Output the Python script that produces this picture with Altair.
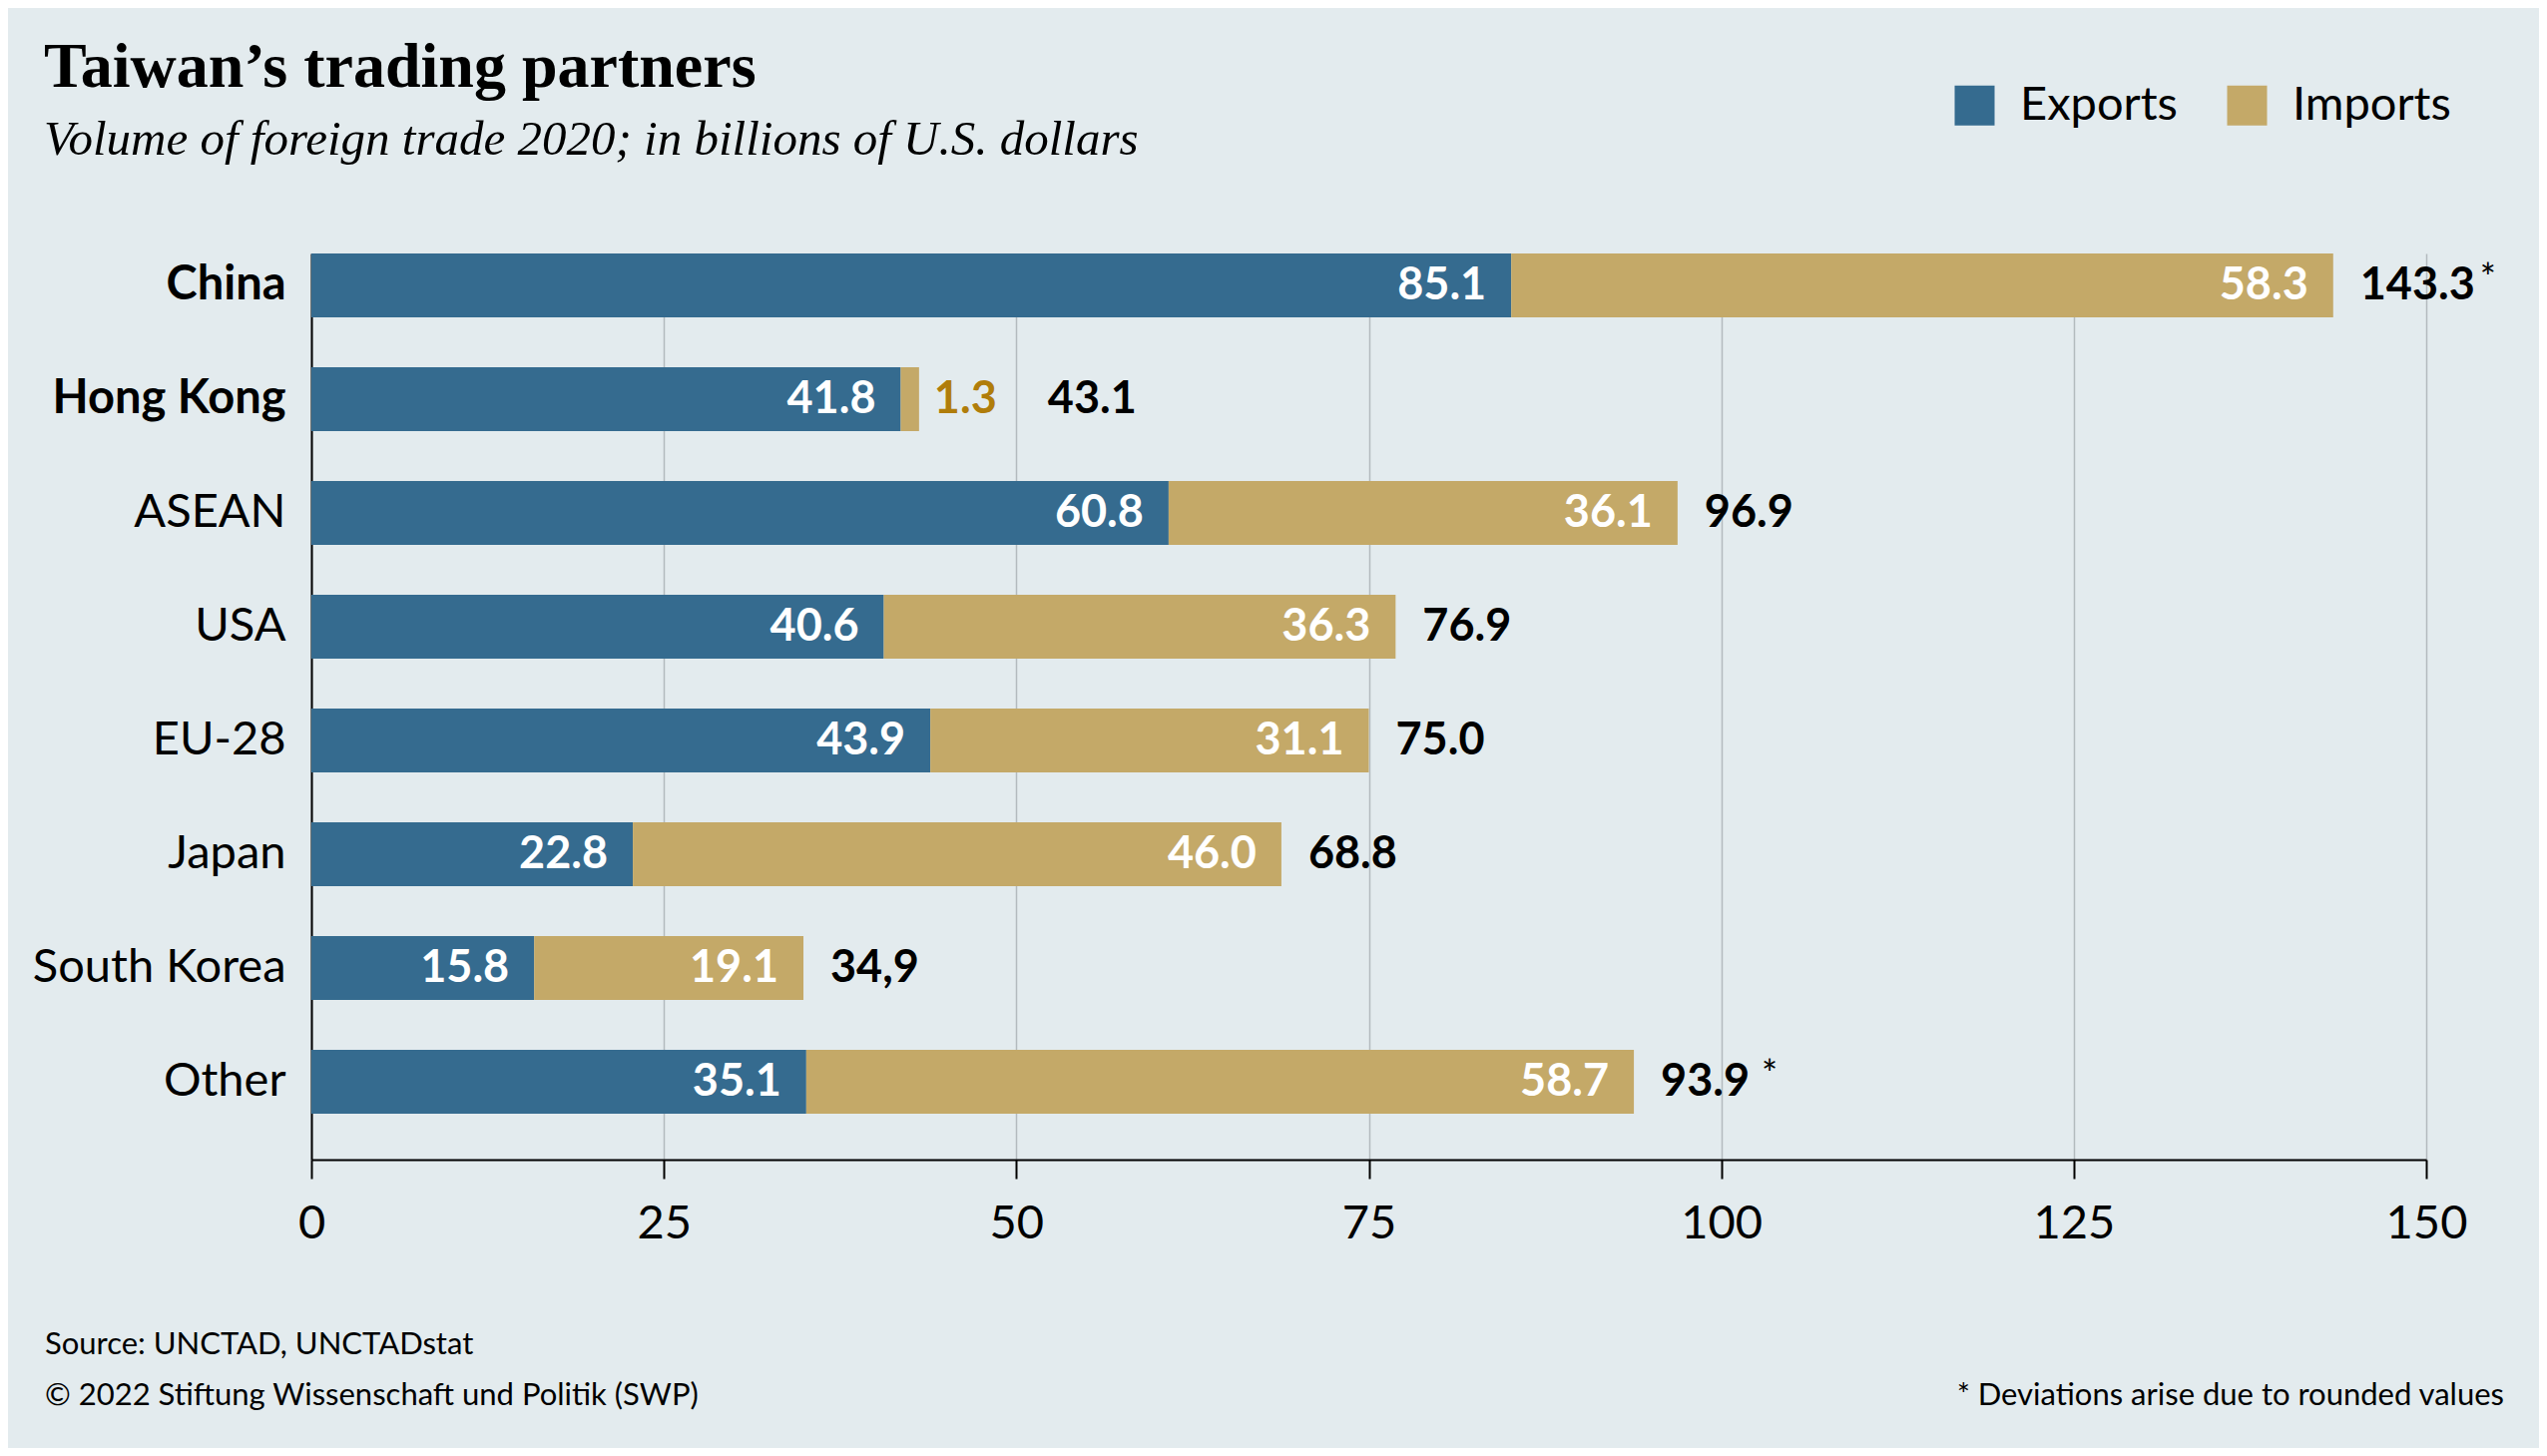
import altair as alt
import pandas as pd

# ---------------- data ----------------
partners = ["China", "Hong Kong", "ASEAN", "USA", "EU-28", "Japan", "South Korea", "Other"]
exports = [85.1, 41.8, 60.8, 40.6, 43.9, 22.8, 15.8, 35.1]
imports = [58.3, 1.3, 36.1, 36.3, 31.1, 46.0, 19.1, 58.7]
totals = ["143.3", "43.1", "96.9", "76.9", "75.0", "68.8", "34,9", "93.9"]
notes = ["*", "", "", "", "", "", "", "*"]
bold_partners = ["China", "Hong Kong"]
flows = ["Exports", "Imports"]
flow_colors = ["#356b8f", "#c4a968"]
x_ticks = [0, 25, 50, 75, 100, 125, 150]

title_text = "Taiwan\u2019s trading partners"
subtitle_text = "Volume of foreign trade 2020; in billions of U.S. dollars"
source_text = "Source: UNCTAD, UNCTADstat"
copyright_text = "\u00a9 2022 Stiftung Wissenschaft und Politik (SWP)"
footnote_text = "* Deviations arise due to rounded values"

# ---------------- tables ----------------
long_rows = []
for p, e, i in zip(partners, exports, imports):
    long_rows.append({"partner": p, "flow": flows[0], "value": e, "order": 0})
    long_rows.append({"partner": p, "flow": flows[1], "value": i, "order": 1})
long_df = pd.DataFrame(long_rows)

wide_df = pd.DataFrame({
    "partner": partners,
    "exports": exports,
    "imports": imports,
    "total": totals,
    "note": notes,
})

SANS = "Lato"
SERIF = "Liberation Serif"
BG = "#e3ebee"

bold_test = " || ".join([f"datum.value == '{p}'" for p in bold_partners])

x_scale = alt.Scale(domain=[0, 150], nice=False, zero=True)
x_axis = alt.Axis(
    values=x_ticks, title=None, grid=True, gridColor="#b3babe", gridWidth=1.5,
    domainColor="black", domainWidth=2, tickColor="black", tickWidth=2, tickSize=19,
    labelFont=SANS, labelFontSize=47, labelColor="black", labelPadding=22,
    labelFlush=False, labelOverlap=False,
)
y_scale = alt.Scale(domain=partners, paddingInner=0.439, paddingOuter=0.202, align=0)
y_axis = alt.Axis(
    title=None, ticks=False, grid=False, domainColor="black", domainWidth=2,
    labelFont=SANS, labelFontSize=47, labelColor="black", labelPadding=26, labelLimit=600,
    labelFontWeight={"condition": {"test": bold_test, "value": "bold"}, "value": "normal"},
)
y_enc = alt.Y("partner:N", sort=partners, scale=y_scale, axis=y_axis, title=None)

bars = alt.Chart(long_df).mark_bar().encode(
    x=alt.X("value:Q", stack="zero", scale=x_scale, axis=x_axis, title=None),
    y=y_enc,
    color=alt.Color(
        "flow:N",
        scale=alt.Scale(domain=flows, range=flow_colors),
        legend=alt.Legend(
            title=None, orient="none", legendX=1643, legendY=-172, direction="horizontal",
            symbolType="square", symbolSize=1600, symbolStrokeWidth=0, symbolOpacity=1,
            labelFont=SANS, labelFontSize=47, labelColor="black", labelOffset=22,
            labelLimit=500, columnPadding=46, padding=0,
        ),
    ),
    order=alt.Order("order:Q"),
)

seg = alt.Chart(long_df).transform_stack(
    stack="value", groupby=["partner"], as_=["x0", "x1"], sort=[alt.SortField("order")]
)

inside_labels = seg.transform_filter("datum.value >= 5").mark_text(
    align="right", baseline="middle", dx=-25, font=SANS, fontWeight="bold",
    fontSize=45, color="white",
).encode(
    x=alt.X("x1:Q", scale=x_scale, axis=x_axis, title=None),
    y=y_enc,
    text=alt.Text("value:Q", format=".1f"),
)

outside_labels = seg.transform_filter("datum.value < 5").mark_text(
    align="left", baseline="middle", dx=15, font=SANS, fontWeight="bold",
    fontSize=45, color="#b07d0a",
).encode(
    x=alt.X("x1:Q", scale=x_scale, axis=x_axis, title=None),
    y=y_enc,
    text=alt.Text("value:Q", format=".1f"),
)

tot_base = alt.Chart(wide_df).transform_calculate(end="datum.exports + datum.imports")

total_labels = tot_base.transform_filter("datum.imports >= 5").mark_text(
    align="left", baseline="middle", dx=27, font=SANS, fontWeight="bold",
    fontSize=45, color="black",
).encode(
    x=alt.X("end:Q", scale=x_scale, axis=x_axis, title=None),
    y=y_enc,
    text="total:N",
)

total_labels_small = tot_base.transform_filter("datum.imports < 5").mark_text(
    align="left", baseline="middle", dx=129, font=SANS, fontWeight="bold",
    fontSize=45, color="black",
).encode(
    x=alt.X("end:Q", scale=x_scale, axis=x_axis, title=None),
    y=y_enc,
    text="total:N",
)

star5 = tot_base.transform_filter("datum.note != '' && length(datum.total) == 5").mark_text(
    align="left", baseline="middle", dx=147, dy=-5, font=SANS, fontSize=38, color="black",
).encode(
    x=alt.X("end:Q", scale=x_scale, axis=x_axis, title=None),
    y=y_enc,
    text="note:N",
)
star4 = tot_base.transform_filter("datum.note != '' && length(datum.total) == 4").mark_text(
    align="left", baseline="middle", dx=128, dy=-5, font=SANS, fontSize=38, color="black",
).encode(
    x=alt.X("end:Q", scale=x_scale, axis=x_axis, title=None),
    y=y_enc,
    text="note:N",
)


def text_layer(txt, x, y, size, font=SANS, weight="normal", style="normal", align="left"):
    return alt.Chart(pd.DataFrame({"t": [txt]})).mark_text(
        align=align, baseline="alphabetic", font=font, fontSize=size,
        fontWeight=weight, fontStyle=style, color="black",
    ).encode(x=alt.value(x), y=alt.value(y), text="t:N")


title_layer = text_layer(title_text, -268, -167, 64, font=SERIF, weight="bold")
subtitle_layer = text_layer(subtitle_text, -268, -99, 49, font=SERIF, style="italic")
source_layer = text_layer(source_text, -267, 1103, 31)
copyright_layer = text_layer(copyright_text, -267, 1154, 31)
footnote_layer = text_layer(footnote_text, 2197, 1154, 31, align="right")

chart = alt.layer(
    bars, inside_labels, outside_labels, total_labels, total_labels_small, star5, star4,
    title_layer, subtitle_layer, source_layer, copyright_layer, footnote_layer,
).properties(
    width=2119,
    height=908,
    autosize=alt.AutoSizeParams(type="none"),
    padding={"left": 304, "top": 246, "right": 113, "bottom": 289},
    background=BG,
).configure_view(stroke=None)

chart.save("out.html", embed_options={"renderer": "svg", "actions": False})
